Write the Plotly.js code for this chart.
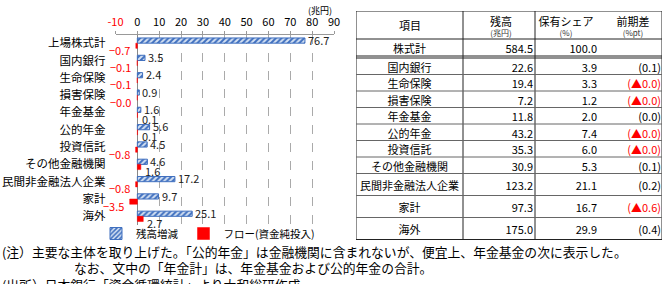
<!DOCTYPE html>
<html><head><meta charset="utf-8">
<script src="https://cdn.plot.ly/plotly-3.0.1.min.js"></script>
<style>html,body{margin:0;padding:0;background:#fff}#chart{width:664px;height:284px}</style>
</head><body><div id="chart"></div>
<script>
// ---- chart data ----
const categories = ['上場株式計','国内銀行','生命保険','損害保険','年金基金','公的年金','投資信託','その他金融機関','民間非金融法人企業','家計','海外'];
const stockChange = [76.7, 3.5, 2.4, 0.9, 1.6, 5.6, 4.5, 4.6, 17.2, 9.7, 25.1];
const netFlow = [-0.7, -0.1, -0.1, -0.02, 0.1, 0.1, -0.8, 1.6, -0.8, -3.5, 2.7];
const xTickVals = [-10, 0, 10, 20, 30, 40, 50, 60, 70, 80, 90];
const seriesNames = ['残高増減', 'フロー(資金純投入)'];

// ---- table data ----
const tableHeader = ['項目', '残高', '保有シェア', '前期差'];
const tableUnits = ['', '(兆円)', '(%)', '(%pt)'];
const tableItems = ['株式計','国内銀行','生命保険','損害保険','年金基金','公的年金','投資信託','その他金融機関','民間非金融法人企業','家計','海外'];
const tableBalance = [584.5, 22.6, 19.4, 7.2, 11.8, 43.2, 35.3, 30.9, 123.2, 97.3, 175.0];
const tableShare = [100.0, 3.9, 3.3, 1.2, 2.0, 7.4, 6.0, 5.3, 21.1, 16.7, 29.9];
const tableDiff = [null, 0.1, -0.0, -0.0, 0.0, -0.0, -0.0, 0.1, 0.2, -0.6, 0.4];

const notes = [
  '(注）主要な主体を取り上げた。「公的年金」は金融機関に含まれないが、便宜上、年金基金の次に表示した。',
  'なお、文中の「年金計」は、年金基金および公的年金の合計。',
  '(出所）日本銀行「資金循環統計」より大和総研作成'
];

// ---- styling / layout constants ----
const RED = '#FF0000';
const FONT = '"Noto Sans CJK JP", "Noto Sans", sans-serif';
const W = 664, H = 284;
const px = (x) => x / W, py = (y) => 1 - y / H;

// table geometry (pixels inside the table box)
const TBL_LEFT = 356, TBL_TOP = 11, TBL_W = 306;
const colEdges = [0, 107, 179, 249, 306];
const headerH = 28, firstGap = 2;
const rowHeights = [17, 16.5, 16.5, 16.5, 16.5, 16.5, 16.5, 16.5, 22, 22, 22];
const headerX = [54, 145, 210, 277];
const cellAnchorX = [53.5, 177, 241, 305];
const TEXT_DY = 2.5;

const isNeg = v => v < 0 || Object.is(v, -0);
const fmtSigned = v => (isNeg(v) ? '\u2212' : '') + Math.abs(v).toFixed(1);
const fmtDiff = v => v === null ? '' : (isNeg(v) ? '(▲' + Math.abs(v).toFixed(1) + ')' : '(' + v.toFixed(1) + ')');

// row tops/centers
const rowTops = [], rowCenters = [];
{
  let y = headerH;
  rowHeights.forEach((h, i) => {
    rowTops.push(y); rowCenters.push(y + h / 2 + TEXT_DY); y += h;
    if (i === 0) y += firstGap;
  });
}
const tableH = rowTops[rowTops.length - 1] + rowHeights[rowHeights.length - 1];

const traces = [
  {
    type: 'bar', orientation: 'h', name: seriesNames[0],
    y: categories, x: stockChange,
    marker: {color: '#C9D9EF', line: {color: '#3F6FBF', width: 1},
             pattern: {shape: '/', bgcolor: '#D5E2F3', fgcolor: '#3F6FBF', size: 4, solidity: 0.5}},
    hoverinfo: 'skip'
  },
  {
    type: 'bar', orientation: 'h', name: seriesNames[1],
    y: categories, x: netFlow,
    marker: {color: RED, line: {color: RED, width: 0.5}},
    hoverinfo: 'skip'
  }
];

// table text traces on hidden x2/y2 axes
const tblText = (x, y, text, pos, size, color) => ({
  type: 'scatter', mode: 'text', xaxis: 'x2', yaxis: 'y2', x, y, text,
  textposition: pos, marker: {size: 0}, cliponaxis: false, showlegend: false, hoverinfo: 'skip',
  textfont: {family: FONT, size, color}
});
traces.push(tblText(
  headerX, tableHeader.map((h, i) => (tableUnits[i] ? 9.5 : headerH / 2) + TEXT_DY), tableHeader,
  'middle center', 11, '#000'));
const unitIdx = tableUnits.map((u, i) => i).filter(i => tableUnits[i]);
traces.push(tblText(unitIdx.map(i => headerX[i]), unitIdx.map(() => 20.5 + TEXT_DY), unitIdx.map(i => tableUnits[i]),
  'middle center', 8, '#333'));
traces.push(tblText(tableItems.map(() => cellAnchorX[0]), rowCenters, tableItems, 'middle center', 11, '#000'));
traces.push(tblText(tableBalance.map(() => cellAnchorX[1]), rowCenters, tableBalance.map(v => v.toFixed(1)), 'middle left', 11, '#000'));
traces.push(tblText(tableShare.map(() => cellAnchorX[2]), rowCenters, tableShare.map(v => v.toFixed(1)), 'middle left', 11, '#000'));
traces.push(tblText(tableDiff.map(() => cellAnchorX[3]), rowCenters, tableDiff.map(fmtDiff), 'middle left', 11,
  tableDiff.map(v => (v !== null && isNeg(v)) ? RED : '#000')));

// table grid shapes
const shapes = [];
const tLine = (x0, y0, x1, y1, color, width) => shapes.push({type: 'line', xref: 'x2', yref: 'y2', x0, y0, x1, y1,
  line: {color, width}});
shapes.push({type: 'rect', xref: 'x2', yref: 'y2', x0: 0, x1: TBL_W, y0: 0, y1: tableH, line: {color: '#222', width: 1}});
[colEdges[1], colEdges[2]].forEach(x => tLine(x, 0, x, tableH, '#222', 1));
tLine(0, headerH, TBL_W, headerH, '#222', 1);
tLine(0, rowTops[0] + rowHeights[0], TBL_W, rowTops[0] + rowHeights[0], '#222', 1);
tLine(0, rowTops[1], TBL_W, rowTops[1], '#222', 1);
for (let i = 2; i < rowTops.length; i++) tLine(0, rowTops[i], TBL_W, rowTops[i], '#666', 1);

// data labels as annotations anchored on the value axis
const annotations = [];
stockChange.forEach((v, i) => annotations.push({
  x: v, y: categories[i], xref: 'x', yref: 'y', text: v.toFixed(1), showarrow: false,
  xanchor: 'left', yanchor: 'middle', xshift: 2, yshift: 3.5, borderpad: 0,
  font: {family: FONT, size: 11, color: '#222'}
}));
netFlow.forEach((v, i) => annotations.push({
  x: v, y: categories[i], xref: 'x', yref: 'y', text: fmtSigned(v), showarrow: false,
  xanchor: isNeg(v) ? 'right' : 'left', yanchor: 'middle', xshift: isNeg(v) ? -5 : 3, yshift: -6.5, borderpad: 0,
  font: {family: FONT, size: 11, color: isNeg(v) ? RED : '#222'}
}));
annotations.push(
  {text: '(兆円)', x: px(320), y: py(11), xref: 'paper', yref: 'paper', showarrow: false,
   font: {family: FONT, size: 9, color: '#000'}, xanchor: 'center', yanchor: 'middle'},
  {text: notes[0], x: 0, y: py(251), xref: 'paper', yref: 'paper', showarrow: false,
   font: {family: FONT, size: 12.8, color: '#000'}, xanchor: 'left', yanchor: 'middle'},
  {text: notes[1], x: px(72), y: py(267), xref: 'paper', yref: 'paper', showarrow: false,
   font: {family: FONT, size: 12.8, color: '#000'}, xanchor: 'left', yanchor: 'middle'},
  {text: notes[2], x: 0, y: py(284), xref: 'paper', yref: 'paper', showarrow: false,
   font: {family: FONT, size: 12.8, color: '#000'}, xanchor: 'left', yanchor: 'middle'}
);

const layout = {
  width: W, height: H,
  margin: {l: 0, r: 0, t: 0, b: 0},
  paper_bgcolor: '#fff', plot_bgcolor: '#fff',
  font: {family: FONT, size: 11, color: '#000'},
  barmode: 'group', bargap: 0.4, bargroupgap: 0,
  xaxis: {
    domain: [px(115.5), px(334)], range: [-10, 90], autorange: false, side: 'top', anchor: 'y',
    tickvals: xTickVals,
    ticktext: xTickVals.map(v => v < 0 ? '<span style="color:' + RED + '">' + v + '</span>' : String(v)),
    tickfont: {family: FONT, size: 11, color: '#000'},
    showgrid: true, gridcolor: '#aaaaaa', griddash: 'dash', gridwidth: 1,
    zeroline: true, zerolinecolor: '#888', zerolinewidth: 1,
    showline: true, linecolor: '#999', linewidth: 1,
    ticks: 'outside', ticklen: 3, tickcolor: '#999', fixedrange: true
  },
  yaxis: {
    domain: [py(225), py(34.5)], type: 'category', autorange: false,
    range: [categories.length - 0.5, -0.5], anchor: 'x',
    tickfont: {family: FONT, size: 11.5, color: '#000'},
    showgrid: false, zeroline: false, showline: false, ticks: '', ticklabelstandoff: 9, fixedrange: true
  },
  xaxis2: {domain: [px(TBL_LEFT), px(TBL_LEFT + TBL_W)], range: [0, TBL_W], autorange: false, anchor: 'y2', visible: false, fixedrange: true},
  yaxis2: {domain: [py(TBL_TOP + tableH + 0.5), py(TBL_TOP)], range: [tableH + 0.5, 0], autorange: false, anchor: 'x2', visible: false, fixedrange: true},
  showlegend: true,
  legend: {orientation: 'h', x: px(96), y: py(219), xanchor: 'left', yanchor: 'top',
           font: {family: FONT, size: 10.5, color: '#000'}, bgcolor: 'rgba(0,0,0,0)', itemwidth: 30,
           traceorder: 'normal'},
  shapes: shapes,
  annotations: annotations
};

Plotly.newPlot('chart', traces, layout, {displayModeBar: false, staticPlot: true});
</script>
</body></html>
